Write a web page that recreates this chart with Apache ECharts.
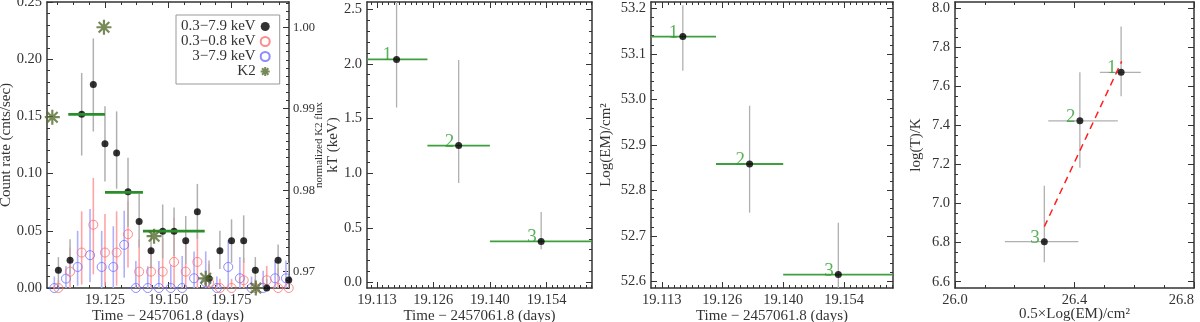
<!DOCTYPE html>
<html>
<head>
<meta charset="utf-8">
<script src="https://cdn.jsdelivr.net/npm/echarts@6/dist/echarts.min.js"></script>
<style>
  html, body { margin: 0; padding: 0; background: #fff; }
  #chart { width: 1200px; height: 322px; }
</style>
</head>
<body>
<div id="chart"></div>
<script>
// 光变曲线 0.3-7.9 keV
const lcTime   = [19.1066, 19.1112, 19.1158, 19.1204, 19.1250, 19.1296, 19.1341, 19.1385, 19.1432, 19.1478, 19.1523, 19.1569, 19.1615, 19.1661, 19.1704, 19.1750, 19.1798, 19.1844, 19.1889, 19.1934, 19.1976];
const fullRate = [0.0155, 0.0243, 0.1518, 0.1778, 0.1260, 0.1181, 0.0842, 0.0582, 0.0325, 0.0497, 0.0497, 0.0412, 0.0667, 0.0082, 0.0325, 0.0412, 0.0412, 0.0155, 0.0000, 0.0243, 0.0070];
const fullLo   = [0.002, 0.012, 0.1158, 0.1368, 0.0932, 0.0868, 0.0535, 0.0354, 0.017, 0.026, 0.028, 0.021, 0.043, 0.000, 0.0167, 0.022, 0.022, 0.002, 0.000, 0.010, 0.000];
const fullHi   = [0.027, 0.0427, 0.188, 0.2182, 0.1588, 0.1544, 0.1138, 0.0822, 0.047, 0.073, 0.0704, 0.063, 0.091, 0.024, 0.050, 0.060, 0.0635, 0.027, 0.008, 0.038, 0.022];

// 0.3-0.8 keV
const softRate = [0.0, 0.0143, 0.031, 0.0553, 0.031, 0.031, 0.047, 0.0143, 0.0143, 0.0143, 0.0228, 0.0143, 0.0228, 0.0047, 0.0, 0.0, 0.0068, 0.0, 0.0068, 0.0, 0.0];
const softLo   = [0, 0, 0.003, 0.012, 0.002, 0.002, 0.018, 0, 0, 0, 0, 0, 0, 0, 0, 0, 0, 0, 0, 0, 0];
const softHi   = [0.007, 0.0354, 0.067, 0.0962, 0.0646, 0.067, 0.0763, 0.0427, 0.0368, 0.0436, 0.0617, 0.0398, 0.050, 0.0208, 0.008, 0.008, 0.0266, 0.008, 0.0193, 0.0178, 0.008];

// 3-7.9 keV
const hardTime = [19.1050, 19.1096, 19.1142, 19.1191, 19.1237, 19.1283, 19.1326, 19.1372, 19.1419, 19.1463, 19.1510, 19.1555, 19.1602, 19.1648, 19.1692, 19.1737, 19.1783, 19.1829, 19.1875, 19.1922, 19.1965];
const hardRate = [0, 0.0082, 0.0184, 0.0287, 0.0184, 0.0184, 0.0377, 0, 0, 0, 0, 0, 0.0085, 0.005, 0, 0.0184, 0.0085, 0, 0, 0.0085, 0.0085];
const hardLo   = [0, 0, 0.002, 0.005, 0, 0, 0.009, 0, 0, 0, 0, 0, 0, 0, 0, 0, 0, 0, 0, 0, 0];
const hardHi   = [0.010, 0.0193, 0.050, 0.069, 0.050, 0.054, 0.0675, 0.0237, 0.019, 0.0237, 0.020, 0.028, 0.032, 0.032, 0.010, 0.042, 0.027, 0.010, 0.015, 0.024, 0.024];

// K2 光度
const k2Time = [19.1042, 19.1246, 19.1444, 19.1648, 19.1846];
const k2Flux = [0.98896, 1.0000, 0.97436, 0.96919, 0.9680];

// 三个时间段
const binName  = ['1', '2', '3'];
const binStart = [19.1105, 19.1250, 19.1400];
const binEnd   = [19.1250, 19.1400, 19.1644];
const binRate  = [0.1518, 0.0836, 0.0497];
const binTime  = [19.1176, 19.1325, 19.1523];
const kT       = [2.04, 1.252, 0.376];
const kTLo     = [1.60, 0.909, 0.304];
const kTHi     = [2.70, 2.034, 0.645];
const logEM    = [53.138, 52.858, 52.615];
const logEMLo  = [53.063, 52.751, 52.550];
const logEMHi  = [53.207, 52.986, 52.729];
const halfEM   = [26.556, 26.418, 26.299];
const halfEMLo = [26.485, 26.312, 26.167];
const halfEMHi = [26.622, 26.545, 26.413];
const logT     = [7.672, 7.424, 6.805];
const logTLo   = [7.549, 7.183, 6.700];
const logTHi   = [7.907, 7.672, 7.092];
const fitX     = [26.299, 26.558];
const fitY     = [6.882, 7.728];

// 刻度
const lcTicks     = [19.125, 19.150, 19.175];
const rateTicks   = [0, 0.05, 0.10, 0.15, 0.20, 0.25];
const k2Ticks     = [0.97, 0.98, 0.99, 1.00];
const binTicks    = [19.1129, 19.1264, 19.1400, 19.1536];
const kTTicks     = [0, 0.5, 1.0, 1.5, 2.0, 2.5];
const emTicks     = [52.6, 52.7, 52.8, 52.9, 53.0, 53.1, 53.2];
const logTTicks   = [6.6, 6.8, 7.0, 7.2, 7.4, 7.6, 7.8, 8.0];
const halfEmTicks = [26.0, 26.4, 26.8];

const FONT = '"Liberation Serif", "DejaVu Serif", serif';
const INK = '#333';
const GREY = '#b0b0b0';

// 次刻度
const range = (from, step, lo, hi) => {
  const out = [];
  const k0 = Math.ceil((lo - from) / step - 1e-6);
  const k1 = Math.floor((hi - from) / step + 1e-6);
  for (let k = k0; k <= k1; k++) out.push(+(from + k * step).toFixed(6));
  return out;
};

const p1x = { min: 19.1021, max: 19.1977, major: lcTicks, dec: 3, name: 'Time \u2212 2457061.8 (days)', gap: 21 };
p1x.minor = range(19.125, 0.00625, p1x.min, p1x.max);
const p1y = { min: 0, max: 0.25, major: rateTicks, dec: 2, name: 'Count rate (cnts/sec)', gap: 33 };
p1y.minor = range(0, 0.01, p1y.min, p1y.max);
const p1k = { min: 0.968, max: 1.0031, major: k2Ticks, dec: 2, name: 'normalized K2 flux', gap: 25, nameSize: 11, fontSize: 12.5, margin: 4 };
p1k.minor = range(0.97, 0.001, p1k.min, p1k.max);

const tx = { min: 19.1105, max: 19.1645, major: binTicks, dec: 3, name: 'Time \u2212 2457061.8 (days)', gap: 21 };
tx.minor = range(19.1400, 0.001355, tx.min, tx.max);
const p2y = { min: -0.05, max: 2.565, major: kTTicks, dec: 1, name: 'kT (keV)', gap: 26 };
p2y.minor = range(0, 0.1, p2y.min, p2y.max);
const p3y = { min: 52.5855, max: 53.214, major: emTicks, dec: 1, name: 'Log(EM)/cm\u00b2', gap: 37 };
p3y.minor = range(52.6, 0.02, p3y.min, p3y.max);
const p4x = { min: 26.0, max: 26.8, major: halfEmTicks, dec: 1, name: '0.5\u00d7Log(EM)/cm\u00b2', gap: 19, alignMax: 'right' };
p4x.minor = range(26.0, 0.1, p4x.min, p4x.max);
const p4y = { min: 6.568, max: 8.032, major: logTTicks, dec: 1, name: 'log(T)/K', gap: 31 };
p4y.minor = range(6.6, 0.05, p4y.min, p4y.max);

const xAxes = [];
const yAxes = [];

// 主刻度轴 + 次刻度轴
const addAxis = (list, grid, side, spec, labelled) => {
  const common = {
    type: 'value', gridIndex: grid, position: side, min: spec.min, max: spec.max,
    splitLine: { show: false }, axisPointer: { show: false }, silent: true
  };
  const major = Object.assign({}, common, {
    axisLine: { show: true, onZero: false, lineStyle: { color: INK, width: 1.5 } },
    axisTick: { show: true, inside: true, length: 6, customValues: spec.major, lineStyle: { color: INK, width: 1 } },
    axisLabel: labelled ? {
      show: true, customValues: spec.major, formatter: v => v.toFixed(spec.dec),
      margin: spec.margin || 5, fontFamily: FONT, fontSize: spec.fontSize || 14.5, color: INK,
      alignMaxLabel: spec.alignMax || null
    } : { show: false }
  });
  if (labelled) {
    Object.assign(major, {
      name: spec.name, nameLocation: 'middle', nameGap: spec.gap, nameMoveOverlap: false,
      nameTextStyle: { fontFamily: FONT, fontSize: spec.nameSize || 15, color: INK }
    });
  }
  const minor = Object.assign({}, common, {
    axisLine: { show: false, onZero: false },
    axisTick: { show: true, inside: true, length: 3, customValues: spec.minor, lineStyle: { color: INK, width: 1 } },
    axisLabel: { show: false }
  });
  const idx = list.length;
  list.push(major, minor);
  return idx;
};

const grids = [
  { left: 47, top: 2, width: 242, height: 286, outerBoundsMode: 'none' },
  { left: 367, top: 2, width: 225, height: 286, outerBoundsMode: 'none' },
  { left: 651, top: 2, width: 242, height: 286, outerBoundsMode: 'none' },
  { left: 955, top: 2, width: 239, height: 286, outerBoundsMode: 'none' }
];

const x1 = addAxis(xAxes, 0, 'bottom', p1x, true); addAxis(xAxes, 0, 'top', p1x, false);
const y1 = addAxis(yAxes, 0, 'left', p1y, true);
const yK = addAxis(yAxes, 0, 'right', p1k, true);
const x2 = addAxis(xAxes, 1, 'bottom', tx, true); addAxis(xAxes, 1, 'top', tx, false);
const y2 = addAxis(yAxes, 1, 'left', p2y, true); addAxis(yAxes, 1, 'right', p2y, false);
const x3 = addAxis(xAxes, 2, 'bottom', tx, true); addAxis(xAxes, 2, 'top', tx, false);
const y3 = addAxis(yAxes, 2, 'left', p3y, true); addAxis(yAxes, 2, 'right', p3y, false);
const x4 = addAxis(xAxes, 3, 'bottom', p4x, true); addAxis(xAxes, 3, 'top', p4x, false);
const y4 = addAxis(yAxes, 3, 'left', p4y, true); addAxis(yAxes, 3, 'right', p4y, false);

// 线段（误差棒、时间段）
const segSeries = (xi, yi, rows, color, width, z) => ({
  type: 'custom', xAxisIndex: xi, yAxisIndex: yi, clip: true, silent: true, z: z || 2,
  data: rows,
  renderItem: (params, api) => {
    const a = api.coord([api.value(0), api.value(1)]);
    const b = api.coord([api.value(2), api.value(3)]);
    return { type: 'line', shape: { x1: a[0], y1: a[1], x2: b[0], y2: b[1] }, style: { stroke: color, lineWidth: width } };
  }
});

const numLabel = {
  show: true, position: 'left', distance: 1, offset: [0, -4],
  formatter: p => binName[p.dataIndex], fontFamily: FONT, fontSize: 19, color: '#2f9f2f'
};

const dotSeries = (xi, yi, xs, ys) => ({
  type: 'scatter', xAxisIndex: xi, yAxisIndex: yi, clip: true, z: 6,
  data: xs.map((v, i) => [v, ys[i]]),
  symbol: 'circle', symbolSize: 7, itemStyle: { color: '#000' }, label: numLabel
});

const STAR = 'path://M0,-10L0,10M-10,0L10,0M-7.07,-7.07L7.07,7.07M-7.07,7.07L7.07,-7.07';

const series = [
  // 第一幅：光变曲线
  segSeries(x1, y1, hardTime.map((t, i) => [t, hardLo[i], t, hardHi[i]]), '#b0b0ff', 1.6),
  segSeries(x1, y1, lcTime.map((t, i) => [t, softLo[i], t, softHi[i]]), '#ffa4a4', 1.6),
  segSeries(x1, y1, lcTime.map((t, i) => [t, fullLo[i], t, fullHi[i]]), GREY, 1.5),
  {
    type: 'scatter', name: '3\u22127.9 keV', xAxisIndex: x1, yAxisIndex: y1, clip: true, z: 3,
    data: hardTime.map((t, i) => [t, hardRate[i]]),
    symbol: 'circle', symbolSize: 9, itemStyle: { color: 'rgba(0,0,0,0)', borderColor: '#6f6fff', borderWidth: 1 }
  },
  {
    type: 'scatter', name: '0.3\u22120.8 keV', xAxisIndex: x1, yAxisIndex: y1, clip: true, z: 4,
    data: lcTime.map((t, i) => [t, softRate[i]]),
    symbol: 'circle', symbolSize: 9, itemStyle: { color: 'rgba(0,0,0,0)', borderColor: '#ff6f6f', borderWidth: 1 }
  },
  {
    type: 'scatter', name: '0.3\u22127.9 keV', xAxisIndex: x1, yAxisIndex: y1, clip: true, z: 5,
    data: lcTime.map((t, i) => [t, fullRate[i]]),
    symbol: 'circle', symbolSize: 7, itemStyle: { color: '#000' }
  },
  segSeries(x1, y1, binRate.map((r, i) => [binStart[i], r, binEnd[i], r]), '#2a8f2a', 2.8, 6),
  {
    type: 'scatter', name: 'K2', xAxisIndex: x1, yAxisIndex: yK, clip: true, z: 7,
    data: k2Time.map((t, i) => [t, k2Flux[i]]),
    symbol: STAR, symbolSize: 15,
    itemStyle: { color: '#556b2f', borderColor: '#556b2f', borderWidth: 2.2 }
  },

  // 第二幅：kT
  segSeries(x2, y2, binTime.map((t, i) => [t, kTLo[i], t, kTHi[i]]), GREY, 1.3),
  segSeries(x2, y2, kT.map((v, i) => [binStart[i], v, binEnd[i], v]), '#3f9f3f', 1.8),
  dotSeries(x2, y2, binTime, kT),

  // 第三幅：EM
  segSeries(x3, y3, binTime.map((t, i) => [t, logEMLo[i], t, logEMHi[i]]), GREY, 1.3),
  segSeries(x3, y3, logEM.map((v, i) => [binStart[i], v, binEnd[i], v]), '#3f9f3f', 1.8),
  dotSeries(x3, y3, binTime, logEM),

  // 第四幅：T 对 EM
  segSeries(x4, y4, halfEM.map((v, i) => [v, logTLo[i], v, logTHi[i]]), GREY, 1.3),
  segSeries(x4, y4, logT.map((v, i) => [halfEMLo[i], v, halfEMHi[i], v]), GREY, 1.3),
  {
    type: 'line', xAxisIndex: x4, yAxisIndex: y4, z: 4, silent: true,
    data: fitX.map((v, i) => [v, fitY[i]]), symbol: 'none',
    lineStyle: { color: '#ff2020', width: 1.5, type: [7, 5] }
  },
  dotSeries(x4, y4, halfEM, logT)
];

const chart = echarts.init(document.getElementById('chart'), null, { renderer: 'canvas' });
chart.setOption({
  animation: false,
  backgroundColor: '#fff',
  grid: grids,
  xAxis: xAxes,
  yAxis: yAxes,
  legend: {
    data: ['0.3\u22127.9 keV', '0.3\u22120.8 keV', '3\u22127.9 keV', 'K2'],
    left: 176, top: 15, orient: 'vertical', align: 'right',
    itemWidth: 9, itemHeight: 9, itemGap: 0,
    padding: [4, 9, 5, 5],
    borderColor: '#999', borderWidth: 1, borderRadius: 0,
    selectedMode: false,
    textStyle: { fontFamily: FONT, fontSize: 15, lineHeight: 14, color: INK }
  },
  series: series
});
window.addEventListener('resize', () => chart.resize());
</script>
</body>
</html>
